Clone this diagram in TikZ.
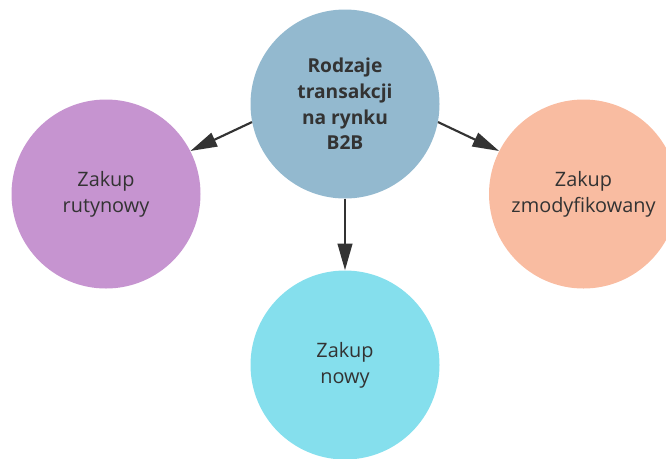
\documentclass[tikz,border=0pt]{standalone}
\usepackage{fontspec}
\setmainfont{Open Sans}
\usetikzlibrary{arrows.meta}
\definecolor{cblue}{RGB}{147,185,207}
\definecolor{cviolet}{RGB}{198,148,208}
\definecolor{csalmon}{RGB}{249,188,161}
\definecolor{ccyan}{RGB}{133,223,237}
\definecolor{ink}{RGB}{51,51,51}
\tikzset{
  bubble/.style={circle, minimum size=141.75pt, inner sep=0pt, align=center,
    text=ink, font=\fontsize{14.9pt}{19.7pt}\selectfont},
  headbubble/.style={bubble, font=\fontsize{14.4pt}{19.3pt}\selectfont\bfseries},
  link/.style={draw=ink, line width=1.6pt,
    -{Triangle[length=20pt,width=11pt]}}
}
\begin{document}
\begin{tikzpicture}[x=0.75pt,y=-0.75pt]
\useasboundingbox (0,0) rectangle (666,458);
\node[headbubble, fill=cblue] (c) at (345,104) {Rodzaje\\transakcji\\na rynku\\B2B};
\node[bubble, fill=cviolet] (l) at (106,194) {Zakup\\rutynowy};
\node[bubble, fill=csalmon] (r) at (583.5,194) {Zakup\\zmodyfikowany};
\node[bubble, fill=ccyan] (b) at (345,365) {Zakup\\nowy};
\draw[link] (c.191.5) -- (l.27);
\draw[link] (c.-11) -- (r.153.8);
\draw[link] (c.south) -- (b.north);
\end{tikzpicture}
\end{document}
